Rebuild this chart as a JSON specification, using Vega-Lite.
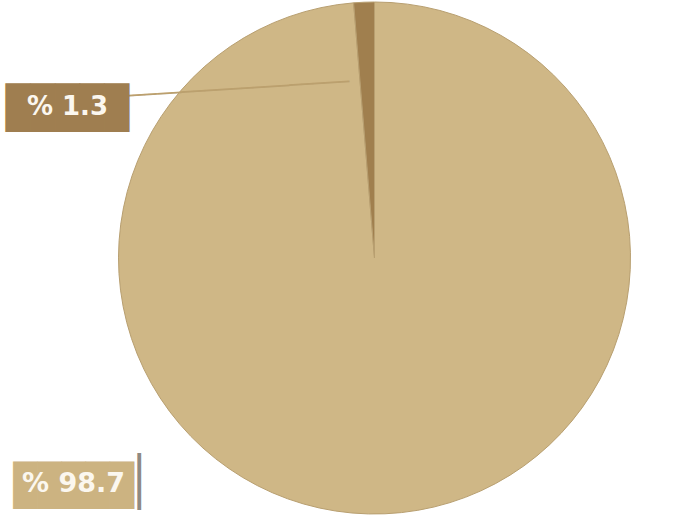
{
  "$schema": "https://vega.github.io/schema/vega-lite/v6.json",
  "width": 680,
  "height": 516,
  "autosize": {"type": "fit", "contains": "padding"},
  "padding": {"left": 40, "right": 0, "top": 0, "bottom": 0},
  "background": "white",
  "view": {"stroke": null},
  "data": {"values": [
    {"label": "% 98.7", "share": 98.7},
    {"label": "% 1.3", "share": 1.3}
  ]},
  "layer": [
    {
      "mark": {"type": "arc", "outerRadius": 256, "stroke": "#b89f70", "strokeWidth": 1},
      "encoding": {
        "theta": {"field": "share", "type": "quantitative", "stack": true},
        "order": {"field": "share", "type": "quantitative", "sort": "descending"},
        "color": {"field": "label", "type": "nominal", "legend": null,
          "scale": {"domain": ["% 98.7", "% 1.3"], "range": ["#cfb786", "#a07f4e"]}}
      }
    },
    {
      "transform": [{"filter": "datum.label == '% 1.3'"}],
      "mark": {"type": "text", "text": "───────────────────", "font": "DejaVu Sans Mono", "fontSize": 20, "color": "#bba06e", "angle": -3.7, "dx": -128, "dy": -177, "align": "center", "baseline": "middle"},
      "encoding": {}
    },
    {
      "transform": [{"filter": "datum.label == '% 1.3'"}],
      "mark": {"type": "text", "text": "█████", "font": "DejaVu Sans Mono", "fontSize": 41, "color": "#9f7e50", "dx": -307, "dy": -148, "align": "center", "baseline": "middle"},
      "encoding": {}
    },
    {
      "transform": [{"filter": "datum.label == '% 98.7'"}],
      "mark": {"type": "text", "text": "█████", "font": "DejaVu Sans Mono", "fontSize": 40, "color": "#ccb381", "dx": -301, "dy": 229, "align": "center", "baseline": "middle"},
      "encoding": {}
    },
    {
      "transform": [{"filter": "datum.label == '% 98.7'"}],
      "mark": {"type": "text", "text": "│", "font": "DejaVu Sans Mono", "fontSize": 48, "color": "#8f8a82", "dx": -235, "dy": 226, "align": "center", "baseline": "middle"},
      "encoding": {}
    },
    {
      "transform": [{"filter": "datum.label == '% 1.3'"}],
      "mark": {"type": "text", "font": "DejaVu Sans", "fontWeight": "bold", "fontSize": 26, "color": "#fbf7ef", "dx": -307, "dy": -151, "align": "center", "baseline": "middle"},
      "encoding": {"text": {"field": "label"}}
    },
    {
      "transform": [{"filter": "datum.label == '% 98.7'"}],
      "mark": {"type": "text", "font": "DejaVu Sans", "fontWeight": "bold", "fontSize": 27, "color": "#fbf7ef", "dx": -301, "dy": 226, "align": "center", "baseline": "middle"},
      "encoding": {"text": {"field": "label"}}
    }
  ]
}
